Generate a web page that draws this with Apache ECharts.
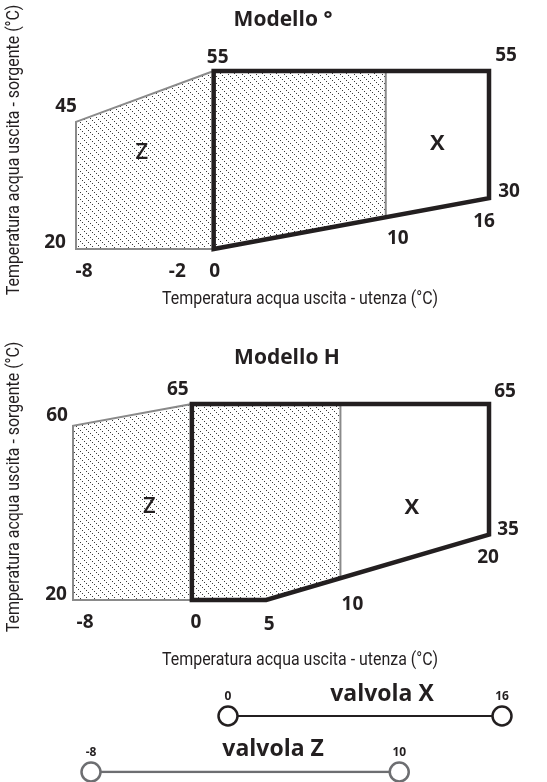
<!DOCTYPE html>
<html><head><meta charset="utf-8">
<script src="https://cdn.jsdelivr.net/npm/echarts@6/dist/echarts.min.js"></script>
<style>html,body{margin:0;padding:0;background:#fff}#c{width:547px;height:782px}</style>
</head><body><div id="c"></div>
<script>
// ---------------- data ----------------
const panelTitles = ['Modello °', 'Modello H'];
const xAxisTitle = 'Temperatura acqua uscita - utenza (°C)';
const yAxisTitle = 'Temperatura acqua uscita - sorgente (°C)';
// Modello ° : [utenza, sorgente]
const m1ZoneZ = [[-8, 20], [-8, 45], [0, 55], [0, 20]];
const m1Envelope = [[0, 20], [0, 55], [16, 55], [16, 30]];
const m1ExtraTicks = [-2];
// Modello H
const m2ZoneZ = [[-8, 20], [-8, 60], [0, 65], [0, 20]];
const m2Envelope = [[0, 20], [0, 65], [20, 65], [20, 35], [5, 20]];
const m2ExtraTicks = [];
// valves (utenza range)
const valveX = [0, 16];
const valveZ = [-8, 10];
const valveNames = ['valvola X', 'valvola Z'];
const zoneNames = ['Z', 'X'];

// ---------------- styles ----------------
const INK = '#231f20', GREY = '#8a8a8a', VGREY = '#6d6e71';
const NUM_FONT = { fontFamily: 'Open Sans', fontWeight: 700, fontSize: 19, color: INK };
const AX_FONT = '19px Roboto';
const AX_TARGET_W = 276;

const mc = document.createElement('canvas').getContext('2d');
mc.font = AX_FONT;
const AX_SCALE = AX_TARGET_W / mc.measureText(xAxisTitle).width;

const T = 14;
const tile = document.createElement('canvas');
tile.width = T; tile.height = T;
const tg = tile.getContext('2d');
tg.fillStyle = '#3a3a3a';
for (let i = 0; i < T; i += 2) { tg.fillRect(i, i, 1, 1); tg.fillRect(i, (i + T / 2) % T, 1, 1); }
const HATCH = { image: tile, repeat: 'repeat' };

// clip polygon to x <= d (geometry helper)
function clipLeft(poly, d) {
  const out = [];
  for (let i = 0; i < poly.length; i++) {
    const a = poly[i], b = poly[(i + 1) % poly.length];
    const ain = a[0] <= d, bin = b[0] <= d;
    if (ain) out.push(a);
    if (ain !== bin) {
      const t = (d - a[0]) / (b[0] - a[0]);
      out.push([d, a[1] + t * (b[1] - a[1])]);
    }
  }
  return out;
}

function buildPanel(zone, env, extraTicks, divX, layout) {
  const envClip = clipLeft(env, divX);
  const div = envClip.filter(p => p[0] === divX).sort((a, b) => a[1] - b[1]);
  const renderItem = function (params, api) {
    if (params.dataIndex !== 0) return null;
    const c = p => api.coord(p);
    const d0 = c(div[0]), d1 = c(div[div.length - 1]);
    return {
      type: 'group', children: [
        { type: 'polygon', shape: { points: zone.map(c) }, style: { fill: HATCH, stroke: 'transparent' } },
        { type: 'polygon', shape: { points: envClip.map(c) }, style: { fill: HATCH, stroke: 'transparent' } },
        { type: 'polygon', shape: { points: zone.map(c) }, style: { fill: 'transparent', stroke: GREY, lineWidth: 2 } },
        { type: 'line', shape: { x1: d0[0], y1: d0[1], x2: d1[0], y2: d1[1] }, style: { stroke: GREY, lineWidth: 2 } },
        { type: 'polygon', shape: { points: env.map(c) }, style: { fill: 'transparent', stroke: INK, lineWidth: 4.5, lineJoin: 'miter' } }
      ]
    };
  };
  const pts = { z: zone, e: env };
  const labels = layout.labels.map(L => {
    let p;
    if (L.src === 'div') p = div[0];
    else if (L.src === 'tick') p = [extraTicks[L.i], zone[0][1]];
    else p = pts[L.src][L.i];
    const txt = String(L.axis === 'x' ? p[0] : p[1]);
    return { value: p, name: txt, label: { offset: L.off } };
  });
  const xs = env.map(p => p[0]), ys = env.concat(zone).map(p => p[1]);
  const zx = zone.map(p => p[0]), zy = zone.map(p => p[1]);
  const ey = env.map(p => p[1]);
  const zoneZc = [(Math.min(...zx) + Math.max(...zx)) / 2, (Math.min(...zy) + Math.max(...zy)) / 2];
  const zoneXc = [(divX + Math.max(...xs)) / 2, (Math.min(...ey) + Math.max(...ey)) / 2];
  labels.push({ value: zoneZc, name: zoneNames[0], label: { offset: layout.zOff, fontWeight: 600, fontSize: 22 } });
  labels.push({ value: zoneXc, name: zoneNames[1], label: { offset: layout.xOff, fontSize: 22 } });
  return { renderItem, data: env, labels, xMin: Math.min(...zx, ...xs), xMax: Math.max(...xs), yMin: Math.min(...ys), yMax: Math.max(...ys) };
}

const P1 = buildPanel(m1ZoneZ, m1Envelope, m1ExtraTicks, valveZ[1], {
  labels: [
    { src: 'z', i: 1, axis: 'y', off: [-10, -15] },
    { src: 'e', i: 1, axis: 'y', off: [4, -13] },
    { src: 'e', i: 2, axis: 'y', off: [17, -15] },
    { src: 'e', i: 3, axis: 'y', off: [20, -7] },
    { src: 'e', i: 3, axis: 'x', off: [-5, 23] },
    { src: 'div', axis: 'x', off: [12, 21] },
    { src: 'z', i: 0, axis: 'y', off: [-21, -6] },
    { src: 'z', i: 0, axis: 'x', off: [8, 23] },
    { src: 'tick', i: 0, axis: 'x', off: [-2, 23] },
    { src: 'e', i: 0, axis: 'x', off: [1, 23] }
  ], zOff: [-3, -7], xOff: [0, -16]
});
const P2 = buildPanel(m2ZoneZ, m2Envelope, m2ExtraTicks, valveZ[1], {
  labels: [
    { src: 'z', i: 1, axis: 'y', off: [-16, -10] },
    { src: 'e', i: 1, axis: 'y', off: [-14, -14] },
    { src: 'e', i: 2, axis: 'y', off: [16, -12] },
    { src: 'e', i: 3, axis: 'y', off: [19, -5] },
    { src: 'e', i: 3, axis: 'x', off: [-1, 23] },
    { src: 'div', axis: 'x', off: [12, 26] },
    { src: 'z', i: 0, axis: 'y', off: [-17, -5] },
    { src: 'z', i: 0, axis: 'x', off: [12, 23] },
    { src: 'e', i: 0, axis: 'x', off: [4, 23] },
    { src: 'e', i: 4, axis: 'x', off: [3, 25] }
  ], zOff: [17, 5], xOff: [-3, 6]
});

const chart = echarts.init(document.getElementById('c'), null, { renderer: 'canvas' });
const hid = { show: false };
const valveMin = Math.min(valveX[0], valveZ[0]), valveMax = Math.max(valveX[1], valveZ[1]);

function labelSeries(P, idx) {
  return {
    type: 'scatter', xAxisIndex: idx, yAxisIndex: idx, symbolSize: 0, silent: true, z: 5,
    itemStyle: { opacity: 1 },
    label: Object.assign({ show: true, position: 'inside', formatter: '{b}' }, NUM_FONT),
    data: P.labels
  };
}
function valveSeries(range, name, color, width) {
  return {
    type: 'line', xAxisIndex: 2, yAxisIndex: 2, symbol: 'circle', symbolSize: 19, z: 3,
    lineStyle: { color, width }, itemStyle: { color: '#fff', borderColor: color, borderWidth: 2.5, opacity: 1 },
    label: { show: true, position: 'top', distance: 3, formatter: p => p.value[0], fontFamily: 'Open Sans', fontWeight: 700, fontSize: 12, color: INK },
    data: range.map(v => [v, name])
  };
}
function axText(x, y, rot) {
  return { type: 'text', x, y, rotation: rot, scaleX: AX_SCALE, style: { text: rot ? yAxisTitle : xAxisTitle, font: AX_FONT, fill: INK, align: 'center', verticalAlign: 'middle' } };
}

chart.setOption({
  animation: false,
  grid: [
    { left: 76, top: 71, width: 413, height: 178 },
    { left: 73, top: 404, width: 416, height: 196 },
    { left: 91, top: 716, width: 411, height: 56 }
  ],
  xAxis: [
    Object.assign({ type: 'value', gridIndex: 0, min: P1.xMin, max: P1.xMax }, hid),
    Object.assign({ type: 'value', gridIndex: 1, min: P2.xMin, max: P2.xMax }, hid),
    Object.assign({ type: 'value', gridIndex: 2, min: valveMin, max: valveMax }, hid)
  ],
  yAxis: [
    Object.assign({ type: 'value', gridIndex: 0, min: P1.yMin, max: P1.yMax }, hid),
    Object.assign({ type: 'value', gridIndex: 1, min: P2.yMin, max: P2.yMax }, hid),
    Object.assign({ type: 'category', gridIndex: 2, boundaryGap: false, data: [valveNames[1], valveNames[0]] }, hid)
  ],
  graphic: [
    { type: 'text', x: 283, y: 20, style: { text: panelTitles[0], font: '700 21px "Open Sans"', fill: INK, align: 'center', verticalAlign: 'middle' } },
    { type: 'text', x: 287, y: 358, style: { text: panelTitles[1], font: '700 21px "Open Sans"', fill: INK, align: 'center', verticalAlign: 'middle' } },
    axText(300, 299, 0),
    axText(300, 660, 0),
    axText(14, 150, Math.PI / 2),
    axText(14, 487, Math.PI / 2)
  ],
  series: [
    { type: 'custom', xAxisIndex: 0, yAxisIndex: 0, renderItem: P1.renderItem, data: P1.data, silent: true },
    { type: 'custom', xAxisIndex: 1, yAxisIndex: 1, renderItem: P2.renderItem, data: P2.data, silent: true },
    labelSeries(P1, 0),
    labelSeries(P2, 1),
    valveSeries(valveX, valveNames[0], INK, 2),
    valveSeries(valveZ, valveNames[1], VGREY, 2.5),
    {
      type: 'scatter', xAxisIndex: 2, yAxisIndex: 2, symbolSize: 0, silent: true, itemStyle: { opacity: 1 },
      label: { show: true, position: 'inside', formatter: '{b}', fontFamily: 'Open Sans', fontWeight: 700, fontSize: 23, color: INK },
      data: [
        { value: [(valveX[0] + valveX[1]) / 2, valveNames[0]], name: valveNames[0], label: { offset: [17, -22] } },
        { value: [(valveZ[0] + valveZ[1]) / 2, valveNames[1]], name: valveNames[1], label: { offset: [28, -23] } }
      ]
    }
  ]
});
</script></body></html>
